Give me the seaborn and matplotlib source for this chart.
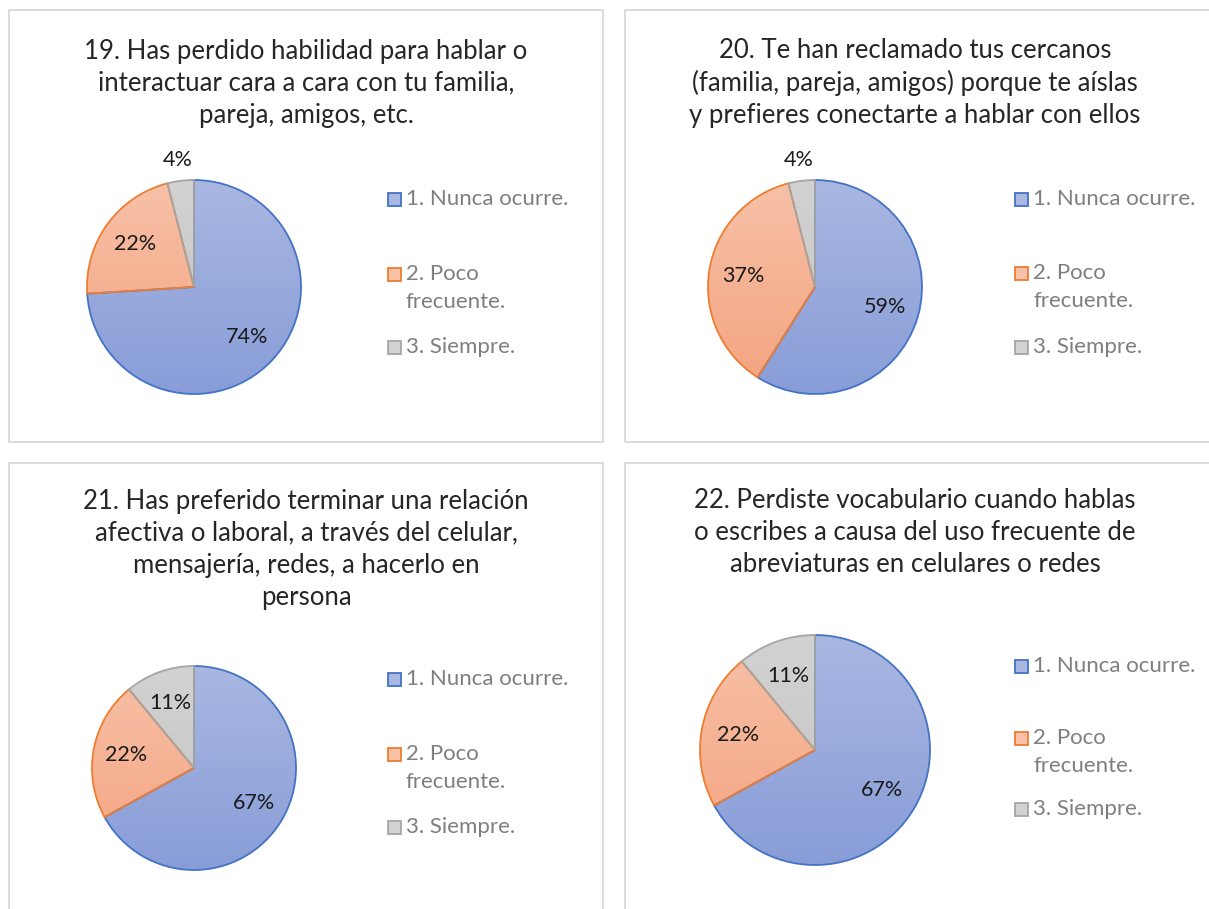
import numpy as np
import matplotlib
matplotlib.use("Agg")
import matplotlib.pyplot as plt
import seaborn as sns
from matplotlib.patches import Rectangle
from matplotlib.colors import to_rgb

sns.set_theme(style="white")
plt.rcParams['font.family'] = ['Lato', 'DejaVu Sans']

# data
categories = ["1. Nunca ocurre.", "2. Poco\nfrecuente.", "3. Siempre."]
titles = [
    "19. Has perdido habilidad para hablar o\ninteractuar cara a cara con tu familia,\npareja, amigos, etc.",
    "20. Te han reclamado tus cercanos\n(familia, pareja, amigos) porque te aíslas\ny prefieres conectarte a hablar con ellos",
    "21. Has preferido terminar una relación\nafectiva o laboral, a través del celular,\nmensajería, redes, a hacerlo en\npersona",
    "22. Perdiste vocabulario cuando hablas\no escribes a causa del uso frecuente de\nabreviaturas en celulares o redes",
]
q19 = [74, 22, 4]
q20 = [59, 37, 4]
q21 = [67, 22, 11]
q22 = [67, 22, 11]
values = [q19, q20, q21, q22]

edge_cols = ["#4472C4", "#ED7D31", "#A5A5A5"]
grad_top = ["#A9B7E1", "#F7C1A8", "#D2D2D2"]
grad_bot = ["#889DD8", "#F4A37F", "#C3C3C3"]

W, H = 1209, 909
fig = plt.figure(figsize=(W / 100, H / 100), dpi=100)


def fx(x):
    return x / W


def fy(y):
    return 1 - y / H


# panel layout in pixels
boxes = [(9, 10, 594, 432), (625, 10, 600, 432), (9, 463, 594, 460), (625, 463, 600, 460)]
pies = [(194, 287, 107), (815, 287, 107), (194, 768, 102), (815, 750, 115)]
title_x = [306, 915, 306, 915]
title_mid = [83, 83, 549, 533]
leg_x = [388, 1015, 388, 1015]
leg_y = [(199, 288, 347), (199, 287, 347), (679, 768, 827), (666, 752, 809)]

for i in range(4):
    bx, by, bw, bh = boxes[i]
    fig.add_artist(Rectangle((fx(bx), fy(by + bh)), bw / W, bh / H, transform=fig.transFigure,
                             fill=False, edgecolor="#D9D9D9", linewidth=1.3))

    fig.text(fx(title_x[i]), fy(title_mid[i]), titles[i], ha="center", va="center",
             fontsize=18.5, color="#262626", linespacing=1.35)

    cx, cy, r = pies[i]
    ax = fig.add_axes([fx(cx - r), fy(cy + r), 2 * r / W, 2 * r / H])
    wedges, texts, autotexts = ax.pie(values[i], startangle=90, counterclock=False,
                                      autopct="%1.0f%%", pctdistance=0.68,
                                      wedgeprops=dict(linewidth=1.3),
                                      textprops=dict(fontsize=15.5, color="#1A1A1A"))
    for j, w in enumerate(wedges):
        w.set_edgecolor(edge_cols[j])
        top = np.array(to_rgb(grad_top[j]))
        bot = np.array(to_rgb(grad_bot[j]))
        t = np.linspace(0, 1, 256)[:, None, None]
        grad = top * (1 - t) + bot * t
        im = ax.imshow(grad, extent=(-1, 1, -1, 1), aspect="auto", zorder=0.5)
        im.set_clip_path(w)
        w.set_facecolor("none")
        w.set_zorder(1)
        if values[i][j] < 5:
            ang = np.deg2rad((w.theta1 + w.theta2) / 2)
            autotexts[j].set_position((1.2 * np.cos(ang), 1.2 * np.sin(ang)))
        autotexts[j].set_zorder(3)
    ax.set_xlim(-1, 1)
    ax.set_ylim(-1, 1)
    ax.set_axis_off()

    # legend
    lx = leg_x[i]
    for j in range(3):
        ly = leg_y[i][j]
        sq_y = ly - 14 if j == 1 else ly
        fig.add_artist(Rectangle((fx(lx), fy(sq_y + 7)), 13 / W, 13 / H, transform=fig.transFigure,
                                 facecolor=grad_top[j], edgecolor=edge_cols[j], linewidth=1.3))
        fig.text(fx(lx + 18), fy(ly), categories[j], ha="left", va="center",
                 fontsize=16, color="#7F7F7F", linespacing=1.47)

fig.savefig("out.png", dpi=100, facecolor="white")
